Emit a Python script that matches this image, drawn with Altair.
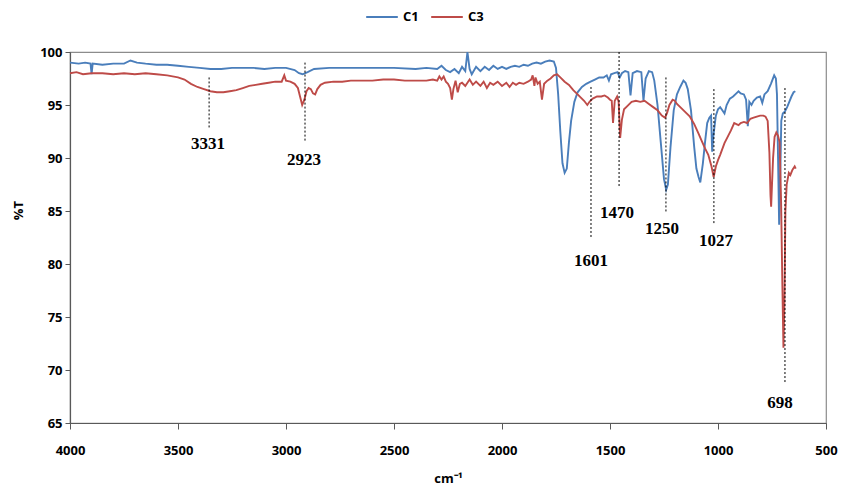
import altair as alt
import pandas as pd

# ---- C1 (blue) : wavenumber (cm-1) and %T ----
c1_wn = [4000, 3960, 3930, 3905, 3900, 3895, 3850, 3800, 3750, 3720, 3690, 3650, 3600, 3550, 3500,
         3450, 3400, 3350, 3300, 3250, 3200, 3150, 3100, 3050, 3000, 2960, 2940, 2923, 2900, 2870,
         2800, 2700, 2600, 2500, 2400, 2350, 2300, 2280, 2260, 2240, 2220, 2200, 2185, 2170, 2160,
         2150, 2140, 2120, 2100, 2080, 2060, 2040, 2020, 2000, 1980, 1960, 1940, 1920, 1900, 1880,
         1860, 1840, 1820, 1800, 1780, 1760, 1750, 1740, 1730, 1720, 1710, 1700, 1690, 1680, 1665,
         1650, 1630, 1610, 1590, 1570, 1550, 1530, 1515, 1505, 1495, 1480, 1465, 1455, 1445, 1430,
         1415, 1405, 1395, 1375, 1355, 1345, 1335, 1320, 1305, 1295, 1280, 1265, 1250, 1240, 1232,
         1220, 1205, 1190, 1175, 1160, 1150, 1140, 1125, 1110, 1100, 1090, 1082, 1070, 1060, 1050,
         1040, 1032, 1027, 1022, 1010, 1000, 990, 980, 970, 960, 945, 930, 915, 905, 895,
         880, 870, 862, 855, 845, 835, 820, 805, 795, 785, 770, 755, 740, 732, 727,
         722, 717, 712, 707, 700, 690, 680, 670, 660, 650, 642]
c1_t = [99.0, 98.9, 99.0, 98.9, 97.9, 98.9, 98.8, 98.9, 98.9, 99.2, 99.0, 98.9, 98.8, 98.8, 98.7,
        98.6, 98.5, 98.4, 98.4, 98.5, 98.5, 98.5, 98.4, 98.5, 98.5, 98.3, 98.0, 97.9, 98.1, 98.4,
        98.5, 98.5, 98.5, 98.5, 98.4, 98.5, 98.4, 98.7, 98.3, 98.1, 98.4, 98.0, 98.6, 98.2, 100.0,
        98.4, 97.9, 98.6, 98.2, 98.6, 98.3, 98.7, 98.4, 98.6, 98.4, 98.6, 98.7, 98.6, 98.8, 98.7,
        98.9, 99.0, 98.9, 99.1, 99.2, 99.1, 98.5, 96.0, 92.5, 89.5, 88.6, 89.0, 91.5, 93.5, 95.3,
        96.2, 96.7, 97.0, 97.2, 97.4, 97.6, 97.6, 97.8, 97.3, 97.9, 98.0, 98.1, 97.6, 98.0, 98.2,
        98.1, 95.9, 98.0, 98.2, 98.1, 95.4, 97.5, 98.2, 98.1, 97.3, 95.0, 91.5, 88.0, 87.0, 87.5,
        91.0, 94.5, 96.0, 96.7, 97.3, 97.1, 96.5, 94.5, 91.0, 89.0, 88.2, 87.7, 89.5, 91.5, 93.3,
        93.8, 94.0, 90.6, 92.0, 94.0, 94.6, 94.8, 94.5, 94.2, 95.0, 95.6, 95.8, 96.1, 96.3, 96.1,
        96.0, 95.5, 93.0, 95.3, 95.0, 95.4, 95.7, 95.8, 95.2, 96.0, 96.3, 97.0, 97.8, 97.5, 96.0,
        90.0, 83.7, 88.0, 93.5, 94.2, 94.4, 94.8, 95.3, 95.8, 96.2, 96.3]

# ---- C3 (red) ----
c3_wn = [4000, 3970, 3940, 3900, 3850, 3800, 3750, 3700, 3650, 3600, 3550, 3500, 3470, 3440, 3410,
         3380, 3350, 3320, 3290, 3260, 3230, 3200, 3170, 3140, 3110, 3080, 3050, 3020, 3008, 3000,
         2980, 2960, 2945, 2935, 2925, 2915, 2905, 2895, 2885, 2875, 2865, 2855, 2840, 2820, 2780,
         2740, 2700, 2650, 2600, 2550, 2500, 2450, 2400, 2350, 2320, 2300, 2290, 2280, 2270, 2260,
         2250, 2240, 2232, 2225, 2215, 2205, 2195, 2185, 2170, 2160, 2150, 2135, 2120, 2100, 2085,
         2070, 2055, 2040, 2020, 2000, 1980, 1965, 1950, 1935, 1920, 1900, 1880, 1865, 1858, 1850,
         1845, 1835, 1825, 1815, 1805, 1790, 1775, 1760, 1745, 1730, 1710, 1690, 1670, 1650, 1635,
         1620, 1605, 1595, 1580, 1560, 1540, 1525, 1510, 1500, 1492, 1486, 1478, 1467, 1460, 1453,
         1445, 1435, 1420, 1400, 1380, 1360, 1340, 1320, 1300, 1280, 1260, 1245, 1235, 1225, 1210,
         1200, 1190, 1170, 1150, 1130, 1110, 1090, 1075, 1060, 1045, 1030, 1020, 1010, 1000, 990,
         970, 950, 940, 925, 915, 905, 895, 880, 865, 850, 835, 820, 805, 790, 780,
         770, 762, 757, 754, 750, 745, 738, 730, 722, 715, 708, 702, 697, 692, 688,
         682, 672, 665, 655, 645, 640]
c3_t = [98.0, 98.1, 97.9, 98.0, 98.0, 97.9, 98.0, 97.9, 98.0, 97.9, 97.8, 97.6, 97.4, 97.0, 96.7,
        96.5, 96.3, 96.2, 96.2, 96.3, 96.4, 96.6, 96.8, 96.9, 97.0, 97.1, 97.2, 97.2, 97.8, 97.3,
        97.2, 97.0, 96.6, 95.8, 95.0, 95.5, 96.3, 96.6, 96.5, 96.1, 96.0, 96.5, 96.9, 97.1, 97.2,
        97.2, 97.3, 97.3, 97.3, 97.4, 97.4, 97.3, 97.3, 97.3, 97.4, 97.3, 97.7, 97.4, 97.7, 97.2,
        97.0, 96.6, 95.5, 96.5, 97.3, 96.2, 97.0, 97.1, 96.8, 97.1, 97.4, 96.9, 97.2, 96.8, 97.2,
        96.6, 97.1, 96.9, 97.2, 96.8, 97.1, 96.7, 97.1, 96.9, 97.1, 97.0, 97.2, 97.4, 97.8, 96.8,
        97.6, 97.0, 97.2, 95.5, 97.0, 97.3, 97.5, 97.8, 97.9, 97.6, 97.2, 96.9, 96.4, 96.0, 95.7,
        95.4, 95.0, 95.3, 95.6, 95.8, 95.8, 95.9, 95.7, 95.5, 95.4, 93.3, 95.4, 95.8, 95.3, 91.9,
        93.6, 94.6, 94.9, 95.3, 95.4, 95.3, 95.4, 95.1, 94.8, 94.5, 94.0, 93.8, 94.3, 95.0, 95.5,
        95.4, 95.1, 94.7, 94.3, 93.9, 93.2, 92.3, 91.6, 90.9, 90.3, 89.2, 88.2, 89.2, 89.8, 90.3,
        91.4, 92.2, 92.6, 93.3, 93.2, 93.1, 93.3, 93.4, 93.3, 93.7, 93.8, 93.9, 94.0, 94.0, 93.9,
        93.5, 90.5, 86.5, 85.4, 87.5, 90.0, 92.0, 92.4, 92.1, 91.5, 86.0, 78.0, 72.1, 77.0, 85.0,
        87.5, 88.6, 88.4, 88.9, 89.2, 89.0]

# ---- peak annotations ----
ann_label = ["3331", "2923", "1601", "1470", "1250", "1027", "698"]
ann_wn = [3356, 2912, 1588, 1458, 1241, 1019, 690]
ann_top = [97.6, 99.0, 96.7, 100.0, 97.6, 96.5, 96.6]
ann_bot = [92.8, 91.5, 82.5, 87.3, 84.8, 83.7, 68.8]
ann_label_wn = [3361, 2917, 1588, 1468, 1259, 1009, 713]
ann_label_t = [91.3, 89.8, 80.3, 84.8, 83.3, 82.2, 66.9]

x_ticks = [4000, 3500, 3000, 2500, 2000, 1500, 1000, 500]
y_ticks = [65, 70, 75, 80, 85, 90, 95, 100]

df = pd.concat([
    pd.DataFrame({"wn": c1_wn, "T": c1_t, "series": "C1", "ord": range(len(c1_wn))}),
    pd.DataFrame({"wn": c3_wn, "T": c3_t, "series": "C3", "ord": range(len(c3_wn))}),
])
ann = pd.DataFrame({"wn": ann_wn, "top": ann_top, "bot": ann_bot, "label": ann_label,
                    "lwn": ann_label_wn, "lt": ann_label_t})

FONT = "Open Sans"

xscale = alt.Scale(domain=[500, 4000], reverse=True, nice=False, zero=False)
yscale = alt.Scale(domain=[65, 100], nice=False, zero=False)

lines = alt.Chart(df).mark_line(strokeWidth=1.9).encode(
    x=alt.X("wn:Q", scale=xscale, title="cm⁻¹",
            axis=alt.Axis(values=x_ticks, format="d", labelFlush=False, grid=False, tickSize=6,
                          labelPadding=15, titleY=55, titleBaseline="middle")),
    y=alt.Y("T:Q", scale=yscale, title="%T",
            axis=alt.Axis(values=y_ticks, format="d", labelFlush=False, grid=False, tickSize=5,
                          labelPadding=3, titleX=-52, titleY=158, titleAngle=270,
                          titleBaseline="middle", titleAlign="center")),
    color=alt.Color("series:N", scale=alt.Scale(domain=["C1", "C3"], range=["#4A7EBB", "#BE4B48"]),
                    legend=alt.Legend(title=None, orient="none", direction="horizontal",
                                      legendX=295, legendY=-52, symbolType="stroke",
                                      symbolStrokeWidth=2, symbolSize=1000,
                                      labelFont=FONT, labelFontSize=13, labelFontWeight="bold",
                                      columnPadding=8, labelOffset=4)),
    order="ord:Q",
)

rules = alt.Chart(ann).mark_rule(color="black", strokeWidth=1, strokeDash=[2, 2]).encode(
    x="wn:Q", y="top:Q", y2="bot:Q")

labels = alt.Chart(ann).mark_text(font="Liberation Serif", fontSize=17, fontWeight="bold",
                                  color="black", baseline="middle", align="center").encode(
    x="lwn:Q", y="lt:Q", text="label:N")

chart = alt.layer(lines, rules, labels).properties(
    width=756, height=371,
    autosize=alt.AutoSizeParams(type="none"),
    padding={"left": 70, "top": 52, "right": 15, "bottom": 65},
).configure_view(stroke="#8C8C8C", strokeWidth=1.2).configure_axis(
    domainColor="#595959", tickColor="#595959", domainWidth=1.2,
    labelFont=FONT, labelFontSize=13, labelFontWeight="bold", labelColor="black",
    titleFont=FONT, titleFontSize=13, titleFontWeight="bold", titleColor="black",
)

chart.save("out.html", embed_options={"renderer": "svg", "actions": False})
